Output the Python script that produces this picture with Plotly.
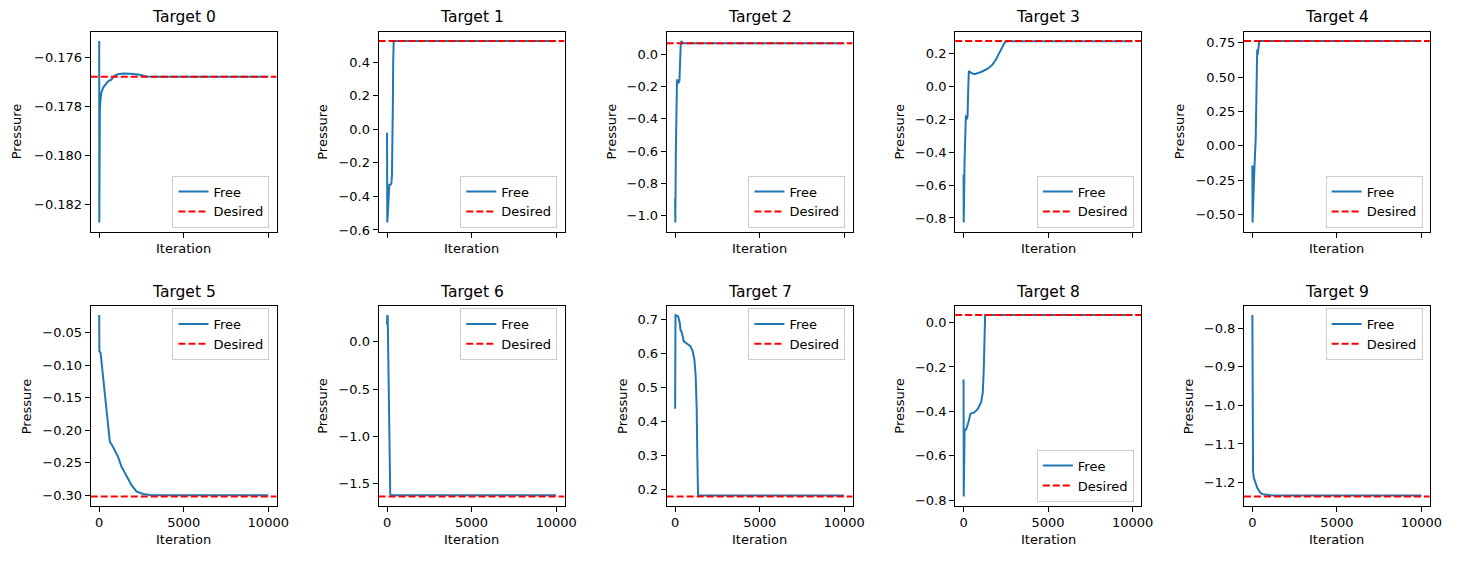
import plotly.graph_objects as go

W, H = 1465, 564
FONT = "DejaVu Sans"

titles = [f"Target {i}" for i in range(10)]

# ---- data (iteration, pressure) ----
it0 = [0, 5, 15, 40, 80, 140, 235, 350, 450, 530, 620, 730, 830, 923, 1100, 1411, 1900, 2393, 2787, 3300, 10000]
v0 = [-0.17535, -0.18272, -0.18050, -0.17811, -0.17770, -0.17742, -0.17724, -0.17712, -0.17705, -0.17699,
      -0.17696, -0.17691, -0.17682, -0.17675, -0.17670, -0.17667, -0.17668, -0.17672, -0.17679, -0.17680, -0.17680]

it1 = [0, 15, 50, 100, 137, 200, 255, 290, 320, 345, 365, 392, 450, 10000]
v1 = [-0.02, -0.555, -0.50, -0.40, -0.33, -0.33, -0.325, -0.28, -0.12, 0.15, 0.40, 0.52, 0.526, 0.526]

it2 = [0, 10, 40, 78, 110, 137, 170, 196, 225, 255, 275, 294, 333, 372, 431, 520, 10000]
v2 = [-0.89, -1.042, -0.62, -0.16, -0.155, -0.16, -0.18, -0.175, -0.17, -0.165, -0.10, -0.02, 0.065, 0.083,
      0.072, 0.069, 0.069]

it3 = [0, 10, 60, 137, 196, 235, 275, 314, 451, 646, 1039, 1430, 1724, 1920, 2116, 2312, 2450, 2607, 10000]
v3 = [-0.537, -0.827, -0.45, -0.176, -0.20, -0.18, -0.02, 0.094, 0.082, 0.075, 0.088, 0.108, 0.134, 0.164,
      0.204, 0.244, 0.270, 0.275, 0.275]

it4 = [0, 10, 118, 196, 235, 255, 285, 314, 353, 412, 10000]
v4 = [-0.144, -0.558, -0.168, 0.048, 0.337, 0.697, 0.70, 0.661, 0.709, 0.762, 0.762]

it5 = [0, 10, 82, 630, 780, 923, 1117, 1317, 1611, 1905, 2199, 2587, 3100, 10000]
v5 = [-0.0233, -0.0789, -0.0815, -0.218, -0.224, -0.231, -0.241, -0.256, -0.271, -0.284, -0.294, -0.298,
      -0.2998, -0.2998]

it6 = [0, 15, 40, 190, 230, 10000]
v6 = [0.18, 0.28, 0.27, -1.61, -1.622, -1.622]

it7 = [0, 20, 176, 276, 314, 372, 431, 510, 706, 902, 1039, 1137, 1215, 1274, 1314, 1353, 1412, 10000]
v7 = [0.437, 0.712, 0.708, 0.688, 0.669, 0.664, 0.652, 0.635, 0.628, 0.621, 0.606, 0.582, 0.533, 0.437,
      0.291, 0.1846, 0.1826, 0.1826]

it8 = [0, 10, 60, 160, 294, 350, 412, 640, 840, 1040, 1137, 1196, 1236, 1275, 10000]
v8 = [-0.256, -0.784, -0.486, -0.48, -0.447, -0.42, -0.41, -0.405, -0.389, -0.359, -0.315, -0.21, -0.018,
      0.034, 0.034]

it9 = [0, 8, 20, 40, 90, 160, 230, 295, 390, 490, 620, 785, 1100, 1500, 10000]
v9 = [-0.766, -1.02, -1.13, -1.172, -1.188, -1.197, -1.207, -1.214, -1.221, -1.227, -1.230, -1.2315,
      -1.2328, -1.2333, -1.2333]

free_iters = [it0, it1, it2, it3, it4, it5, it6, it7, it8, it9]
free_vals = [v0, v1, v2, v3, v4, v5, v6, v7, v8, v9]

desired = [-0.17680, 0.526, 0.069, 0.276, 0.762, -0.3018, -1.634, 0.1795, 0.034, -1.236]

ytick_vals = [
    [-0.182, -0.180, -0.178, -0.176],
    [-0.6, -0.4, -0.2, 0.0, 0.2, 0.4],
    [-1.0, -0.8, -0.6, -0.4, -0.2, 0.0],
    [-0.8, -0.6, -0.4, -0.2, 0.0, 0.2],
    [-0.50, -0.25, 0.00, 0.25, 0.50, 0.75],
    [-0.30, -0.25, -0.20, -0.15, -0.10, -0.05],
    [-1.5, -1.0, -0.5, 0.0],
    [0.2, 0.3, 0.4, 0.5, 0.6, 0.7],
    [-0.8, -0.6, -0.4, -0.2, 0.0],
    [-1.2, -1.1, -1.0, -0.9, -0.8],
]
ytick_decimals = [3, 1, 1, 1, 2, 2, 1, 1, 1, 1]
xtick_vals = [0, 5000, 10000]
xtick_text = ["0", "5000", "10000"]

legend_pos = ["lower", "lower", "lower", "lower", "lower", "upper", "upper", "upper", "lower", "upper"]

# ---- layout geometry (pixels) ----
left_px = [91.5, 381.7, 672.2, 963.0, 1254.2]
width_px = 187.5
rows_px = [(32.3, 234.0), (309.3, 511.0)]
ylabel_x_px = [16.7, 325.7, 616.7, 907.3, 1189.3, 26.7, 325.7, 628.3, 907.3, 1198.3]


def fmt(v, d):
    s = f"{abs(v):.{d}f}"
    return ("\u2212" + s) if v < 0 else s


def pad_range(lo, hi, frac=0.05):
    p = (hi - lo) * frac
    return [lo - p, hi + p]


fig = go.Figure()
layout = dict(
    width=W, height=H, autosize=False,
    margin=dict(l=0, r=0, t=0, b=0),
    paper_bgcolor="white", plot_bgcolor="white",
    font=dict(family=FONT, size=13, color="black"),
    showlegend=True,
)
annotations = []

for i in range(10):
    r, c = divmod(i, 5)
    k = i + 1
    xa = "x" if k == 1 else f"x{k}"
    ya = "y" if k == 1 else f"y{k}"
    lg = "legend" if k == 1 else f"legend{k}"

    x0p = left_px[c]
    x1p = x0p + width_px
    top_p, bot_p = rows_px[r]

    its, vals = free_iters[i], free_vals[i]
    xr = pad_range(min(its), max(its))
    allv = vals + [desired[i]]
    yr = pad_range(min(allv), max(allv))

    fig.add_trace(go.Scatter(
        x=its, y=vals, mode="lines", name="Free",
        line=dict(color="#1f77b4", width=2),
        xaxis=xa, yaxis=ya, legend=lg, showlegend=True,
    ))
    fig.add_trace(go.Scatter(
        x=[xr[0], xr[1]], y=[desired[i], desired[i]], mode="lines", name="Desired",
        line=dict(color="red", width=2, dash="7px,3px"),
        xaxis=xa, yaxis=ya, legend=lg, showlegend=True,
    ))

    axcommon = dict(
        showgrid=False, zeroline=False, showline=True, mirror=True,
        linecolor="black", linewidth=1, ticks="outside", ticklen=5, tickwidth=1,
        tickcolor="black", tickfont=dict(family=FONT, size=13, color="black"),
    )
    layout["xaxis" if k == 1 else f"xaxis{k}"] = dict(
        domain=[x0p / W, x1p / W], anchor=ya, range=xr,
        tickvals=xtick_vals,
        ticktext=(xtick_text if r == 1 else ["", "", ""]),
        **axcommon,
    )
    layout["yaxis" if k == 1 else f"yaxis{k}"] = dict(
        domain=[1 - bot_p / H, 1 - top_p / H], anchor=xa, range=yr,
        tickvals=ytick_vals[i],
        ticktext=[fmt(v, ytick_decimals[i]) for v in ytick_vals[i]],
        **axcommon,
    )

    # legend placement
    right_p = x1p - 7.3
    if legend_pos[i] == "lower":
        leg = dict(x=right_p / W, xanchor="right", y=1 - (bot_p - 4) / H, yanchor="bottom")
    else:
        leg = dict(x=right_p / W, xanchor="right", y=1 - (top_p + 2) / H, yanchor="top")
    leg.update(bgcolor="rgba(255,255,255,0.8)", bordercolor="#cccccc", borderwidth=1,
               font=dict(family=FONT, size=13, color="black"), tracegroupgap=0,
               traceorder="normal", itemwidth=30)
    layout[lg] = leg

    cx = (x0p + x1p) / 2
    # title
    annotations.append(dict(
        text=titles[i], x=cx / W, y=1 - (17.3 if r == 0 else 295.0) / H,
        xref="paper", yref="paper", xanchor="center", yanchor="middle",
        showarrow=False, font=dict(family=FONT, size=15.5, color="black"),
    ))
    # x label
    annotations.append(dict(
        text="Iteration", x=cx / W, y=1 - (250.7 if r == 0 else 545.7) / H,
        xref="paper", yref="paper", xanchor="center", yanchor="middle",
        showarrow=False, font=dict(family=FONT, size=13, color="black"),
    ))
    # y label
    annotations.append(dict(
        text="Pressure", x=ylabel_x_px[i] / W, y=1 - ((top_p + bot_p) / 2) / H,
        xref="paper", yref="paper", xanchor="center", yanchor="middle", textangle=-90,
        showarrow=False, font=dict(family=FONT, size=13, color="black"),
    ))

layout["annotations"] = annotations
fig.update_layout(**layout)
fig.write_html("out.html")
